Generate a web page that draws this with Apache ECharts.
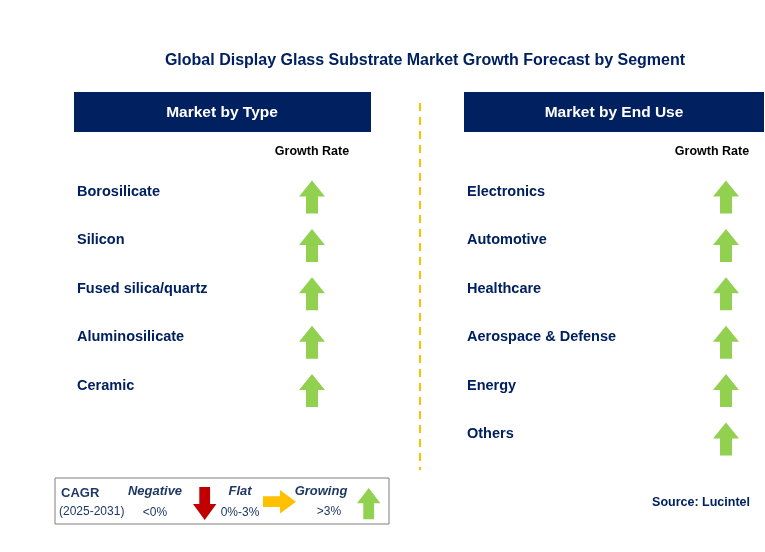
<!DOCTYPE html>
<html>
<head>
<meta charset="utf-8">
<script src="https://cdn.jsdelivr.net/npm/echarts@6/dist/echarts.min.js"></script>
<style>
  html, body { margin: 0; padding: 0; background: #fff; }
  #main { width: 765px; height: 552px; }
</style>
</head>
<body>
<div id="main"></div>
<script>
  // segments by type
  var typeNames = ['Borosilicate', 'Silicon', 'Fused silica/quartz', 'Aluminosilicate', 'Ceramic'];
  var typeGrowth = ['up', 'up', 'up', 'up', 'up'];
  // segments by end use
  var useNames = ['Electronics', 'Automotive', 'Healthcare', 'Aerospace & Defense', 'Energy', 'Others'];
  var useGrowth = ['up', 'up', 'up', 'up', 'up', 'up'];

  var arrowUp = 'path://M13,0 L26,16 L19,16 L19,33 L7,33 L7,16 L0,16 Z';
  var arrowDown = 'path://M7,0 L19,0 L19,17 L26,17 L13,33 L0,17 L7,17 Z';
  var arrowRight = 'path://M0,7 L17,7 L17,0 L33,13 L17,26 L17,19 L0,19 Z';
  var symbols = { up: arrowUp, down: arrowDown, flat: arrowRight };
  var colors = { up: '#92D050', down: '#C00000', flat: '#FFC000' };
  var font = '"Liberation Sans", Arial, sans-serif';

  function nameSeries(names, idx) {
    return {
      type: 'scatter', xAxisIndex: idx, yAxisIndex: idx, symbolSize: 0, silent: true,
      itemStyle: { opacity: 1 },
      data: names.map(function (n, i) { return { value: [0, i], name: n }; }),
      label: { show: true, position: 'right', distance: 0, formatter: '{b}',
        color: '#002060', fontSize: 14.5, fontWeight: 'bold', fontFamily: font }
    };
  }
  function arrowSeries(growth, idx) {
    return {
      type: 'scatter', xAxisIndex: idx, yAxisIndex: idx, silent: true,
      symbolSize: [26, 33], symbolOffset: [0, 5],
      data: growth.map(function (g, i) {
        return { value: [1, i], symbol: symbols[g], itemStyle: { color: colors[g], opacity: 1 } };
      })
    };
  }
  function hiddenAxis(extra) {
    return Object.assign({ type: 'value', show: false }, extra);
  }
  function poly(pts, dx, dy, sx, sy, fill) {
    return { type: 'polygon', shape: { points: pts.map(function (p) { return [dx + p[0] * sx, dy + p[1] * sy]; }) }, style: { fill: fill } };
  }
  var upPts = [[13,0],[26,16],[19,16],[19,33],[7,33],[7,16],[0,16]];
  var downPts = [[7,0],[19,0],[19,17],[26,17],[13,33],[0,17],[7,17]];
  var rightPts = [[0,7],[17,7],[17,0],[33,13],[17,26],[17,19],[0,19]];

  var chart = echarts.init(document.getElementById('main'));
  chart.setOption({
    backgroundColor: '#fff',
    animation: false,
    title: {
      text: 'Global Display Glass Substrate Market Growth Forecast by Segment',
      left: 420, top: 48, textAlign: 'center',
      textStyle: { color: '#002060', fontSize: 16, fontWeight: 'bold', fontFamily: font }
    },
    grid: [
      { left: 77, top: 192, width: 235, height: 193.6 },
      { left: 467, top: 192, width: 259, height: 242 }
    ],
    xAxis: [hiddenAxis({ min: 0, max: 1, gridIndex: 0 }), hiddenAxis({ min: 0, max: 1, gridIndex: 1 })],
    yAxis: [
      hiddenAxis({ min: 0, max: typeNames.length - 1, inverse: true, gridIndex: 0 }),
      hiddenAxis({ min: 0, max: useNames.length - 1, inverse: true, gridIndex: 1 })
    ],
    series: [
      nameSeries(typeNames, 0), arrowSeries(typeGrowth, 0),
      nameSeries(useNames, 1), arrowSeries(useGrowth, 1)
    ],
    graphic: [
      { type: 'rect', shape: { x: 74, y: 92, width: 297, height: 40 }, style: { fill: '#002060' } },
      { type: 'text', x: 222, y: 113, style: { text: 'Market by Type', fill: '#fff', fontSize: 15.5, fontWeight: 'bold', fontFamily: font, align: 'center', verticalAlign: 'middle' } },
      { type: 'rect', shape: { x: 464, y: 92, width: 300, height: 40 }, style: { fill: '#002060' } },
      { type: 'text', x: 614, y: 113, style: { text: 'Market by End Use', fill: '#fff', fontSize: 15.5, fontWeight: 'bold', fontFamily: font, align: 'center', verticalAlign: 'middle' } },
      { type: 'text', x: 312, y: 152, style: { text: 'Growth Rate', fill: '#000', fontSize: 12.5, fontWeight: 'bold', fontFamily: font, align: 'center', verticalAlign: 'middle' } },
      { type: 'text', x: 712, y: 152, style: { text: 'Growth Rate', fill: '#000', fontSize: 12.5, fontWeight: 'bold', fontFamily: font, align: 'center', verticalAlign: 'middle' } },
      { type: 'line', shape: { x1: 420, y1: 103, x2: 420, y2: 470 }, style: { stroke: '#FFC000', lineWidth: 2, lineDash: [8, 6] } },
      // legend box
      { type: 'rect', shape: { x: 55, y: 478, width: 334, height: 46 }, style: { fill: '#fff', stroke: '#7f7f7f', lineWidth: 1 } },
      { type: 'text', x: 61, y: 493, style: { text: 'CAGR', fill: '#1F3864', fontSize: 13, fontWeight: 'bold', fontFamily: font, verticalAlign: 'middle' } },
      { type: 'text', x: 59, y: 512, style: { text: '(2025-2031)', fill: '#1F3864', fontSize: 12, fontFamily: font, verticalAlign: 'middle' } },
      { type: 'text', x: 155, y: 491, style: { text: 'Negative', fill: '#1F3864', fontSize: 13, fontWeight: 'bold', fontStyle: 'italic', fontFamily: font, align: 'center', verticalAlign: 'middle' } },
      { type: 'text', x: 155, y: 513, style: { text: '<0%', fill: '#1F3864', fontSize: 12, fontFamily: font, align: 'center', verticalAlign: 'middle' } },
      poly(downPts, 193, 487, 0.9, 1, '#C00000'),
      { type: 'text', x: 240, y: 491, style: { text: 'Flat', fill: '#1F3864', fontSize: 13, fontWeight: 'bold', fontStyle: 'italic', fontFamily: font, align: 'center', verticalAlign: 'middle' } },
      { type: 'text', x: 240, y: 513, style: { text: '0%-3%', fill: '#1F3864', fontSize: 12, fontFamily: font, align: 'center', verticalAlign: 'middle' } },
      poly(rightPts, 263, 490, 1, 0.9, '#FFC000'),
      { type: 'text', x: 321, y: 491, style: { text: 'Growing', fill: '#1F3864', fontSize: 13, fontWeight: 'bold', fontStyle: 'italic', fontFamily: font, align: 'center', verticalAlign: 'middle' } },
      { type: 'text', x: 329, y: 512, style: { text: '>3%', fill: '#1F3864', fontSize: 12, fontFamily: font, align: 'center', verticalAlign: 'middle' } },
      poly(upPts, 357, 488, 0.9, 0.95, '#92D050'),
      { type: 'text', x: 750, y: 503, style: { text: 'Source: Lucintel', fill: '#002060', fontSize: 12.5, fontWeight: 'bold', fontFamily: font, align: 'right', verticalAlign: 'middle' } }
    ]
  });
</script>
</body>
</html>
